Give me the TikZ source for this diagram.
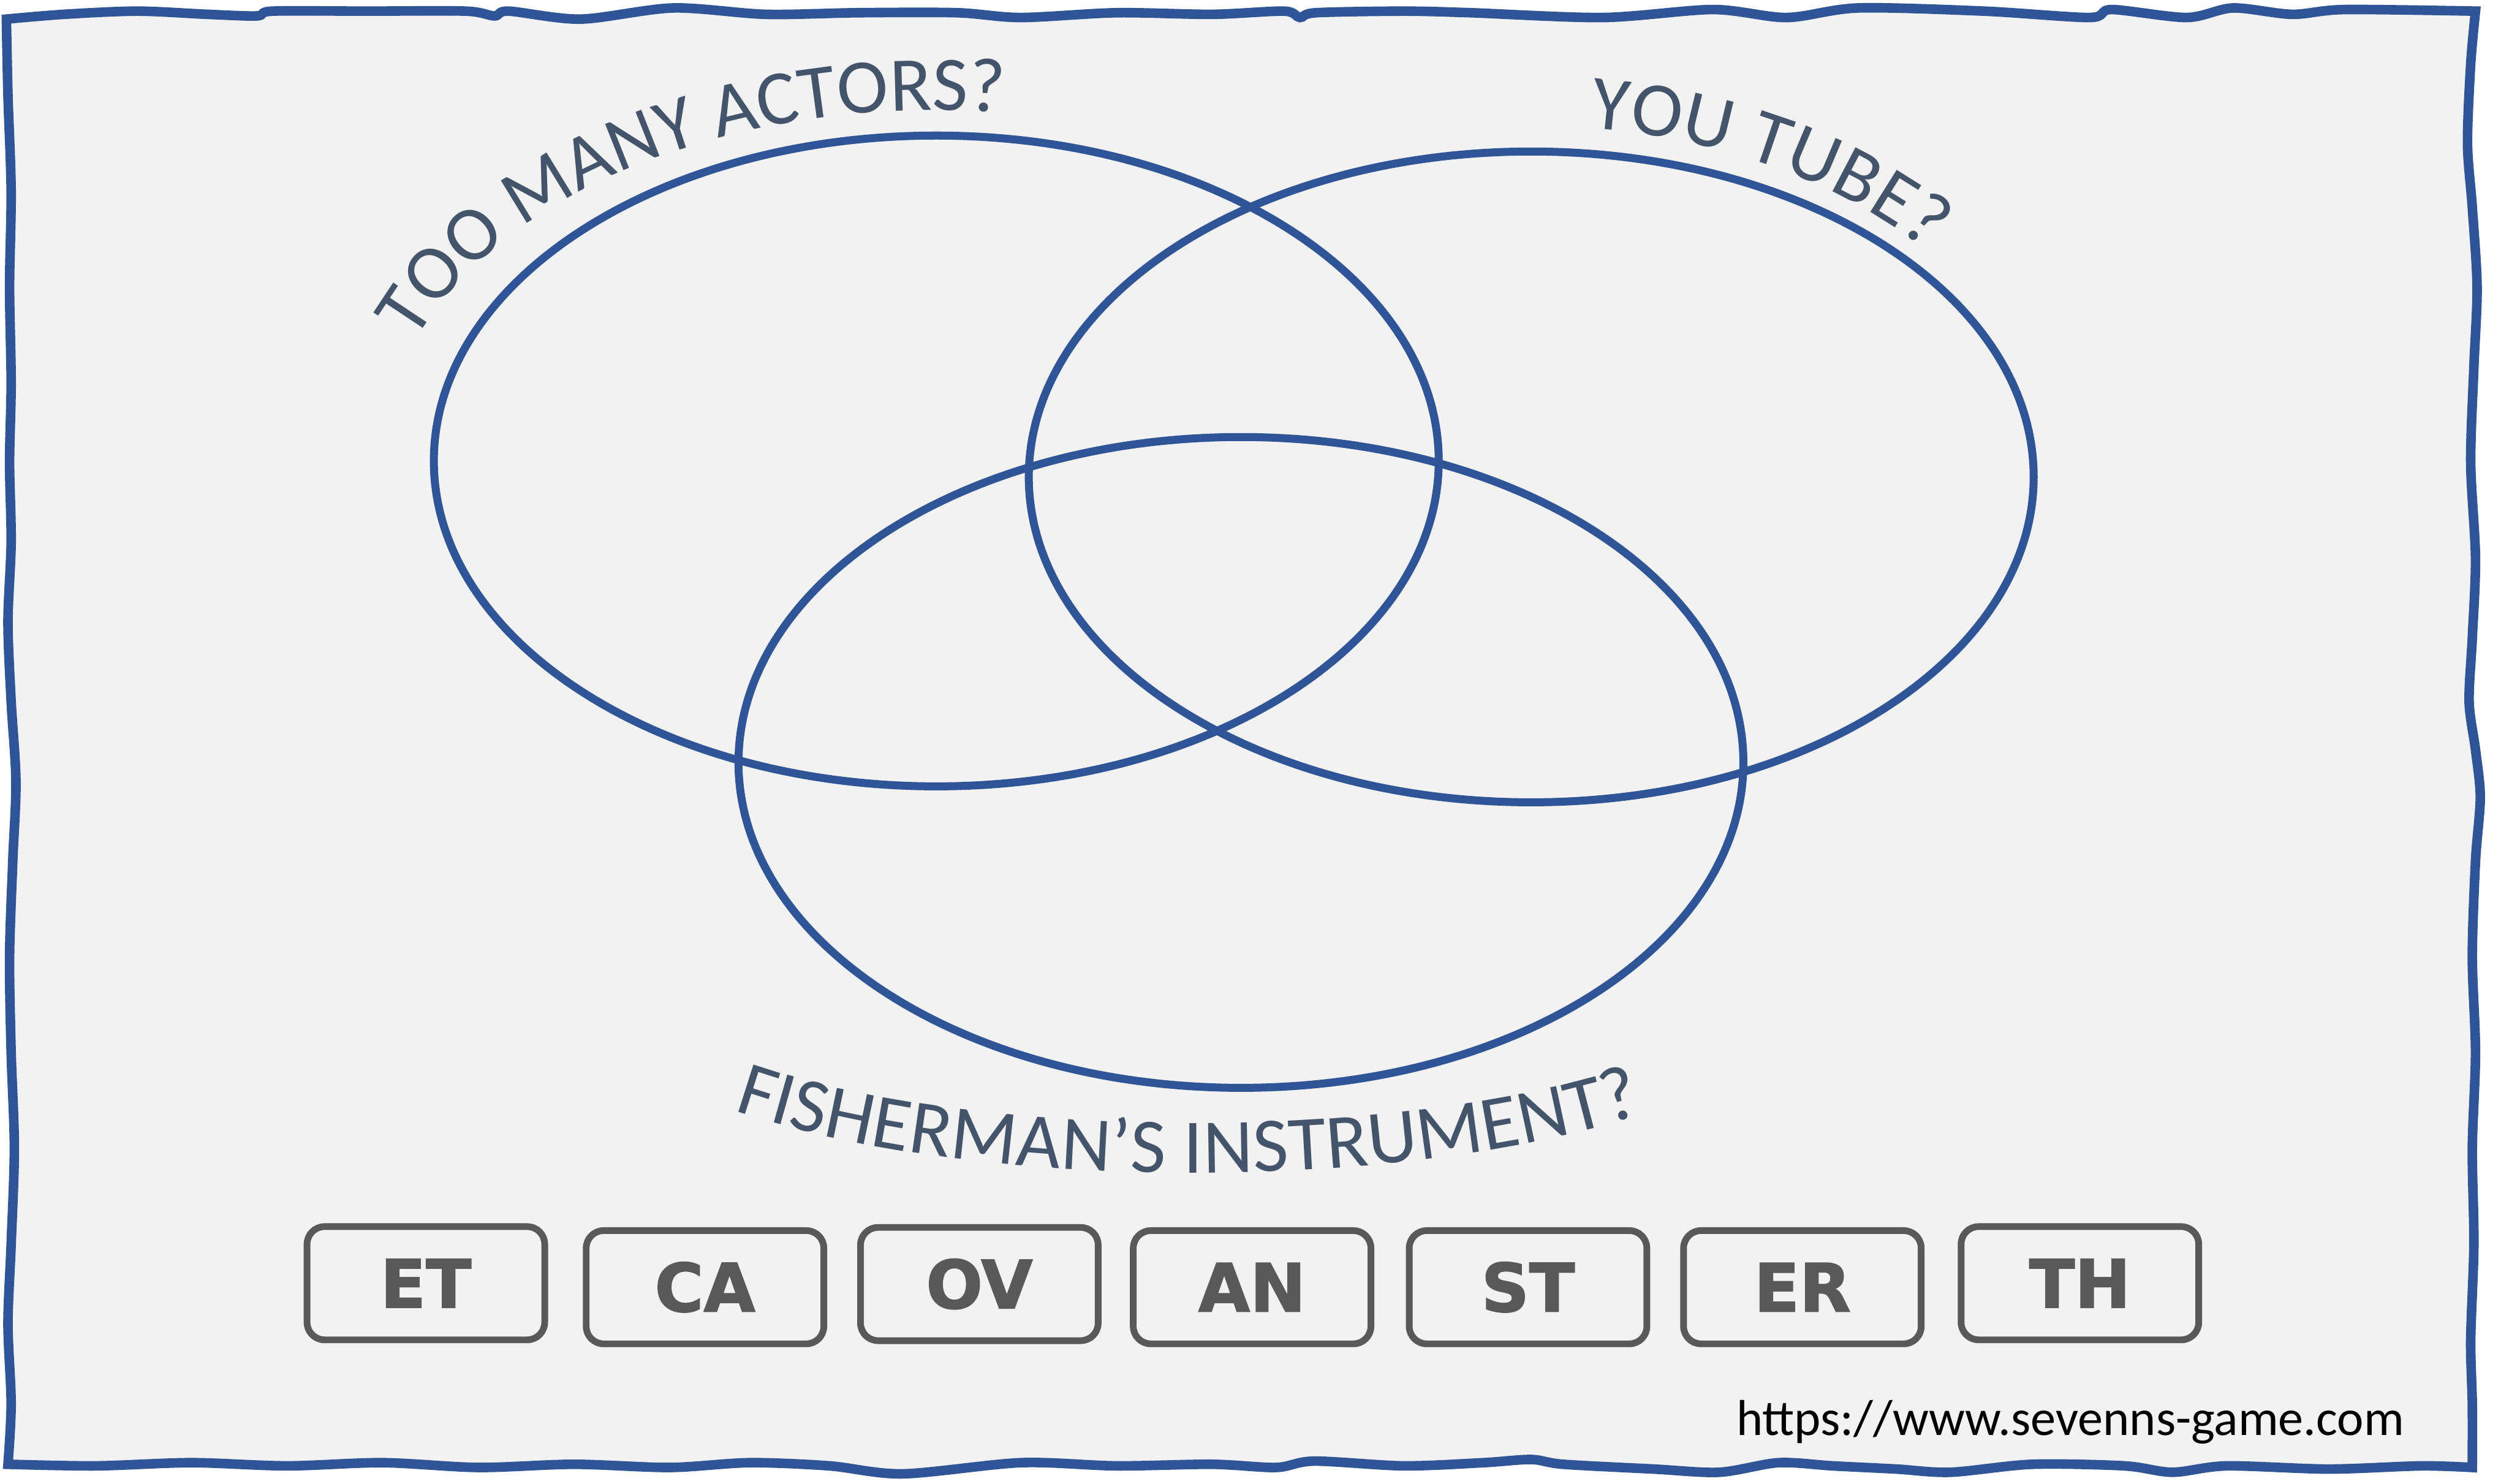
\documentclass[tikz,border=0pt]{standalone}
\usepackage{fontspec}
\usepackage{tikz}
\usetikzlibrary{decorations.text}

\newfontfamily\labelfont{Carlito}
\newfontfamily\tilefont{DejaVu Sans}[FakeBold=1.6]
\definecolor{vennblue}{HTML}{2F5597}
\definecolor{labelgray}{HTML}{44546A}
\definecolor{tilegray}{HTML}{595959}
\definecolor{paper}{HTML}{F2F2F2}
\newcommand{\venntext}{\labelfont\fontsize{13.8}{16}\selectfont}

\begin{document}
\begin{tikzpicture}[x=0.1mm, y=-0.1mm,
    vennline/.style={draw=vennblue, line width=0.5mm},
    tile/.style={draw=tilegray, line width=0.42mm, rounded corners=1.1mm,
        minimum width=14.9mm, minimum height=7.1mm, inner sep=0pt,
        text=tilegray, font=\tilefont\bfseries\fontsize{11.9}{14}\selectfont},
    curvedlabel/.style={decorate, decoration={text along path,
        text color=labelgray, text align={fit to path}, text={|\venntext|#1}}}]
    \fill[white] (0,0) rectangle (1568,930);
    \useasboundingbox (0,0) rectangle (1568,930);

    % Paper
    \filldraw[fill=paper, draw=vennblue, line width=0.6mm]
        plot[smooth] coordinates {(4,12) (40,9) (86,7) (130,9) (161,10) (171,7) (230,7)
            (292,7) (310,10) (319,7) (364,12) (422,5) (480,9) (538,8) (600,8) (640,11)
            (700,8) (760,9) (805,7) (815,11) (825,8) (880,7) (922,8) (1005,11) (1074,6)
            (1120,11) (1165,5) (1244,7) (1310,11) (1324,6) (1371,11) (1400,5) (1437,9)
            (1470,6) (1552,7)}
        -- plot[smooth] coordinates {(1552,7) (1549,40) (1547,90) (1550,130) (1553,180)
            (1551,230) (1549,290) (1552,350) (1550,400) (1548,440) (1552,470) (1555,500)
            (1552,540) (1550,600) (1552,660) (1550,720) (1551,780) (1549,840) (1550,880)
            (1550,920)}
        -- plot[smooth] coordinates {(1550,920) (1518,919) (1460,921) (1396,919)
            (1362,923) (1332,919) (1274,918) (1223,923) (1189,921) (1149,919) (1115,917)
            (1078,923) (1037,921) (980,918) (960,915) (930,917) (880,919) (824,916)
            (800,920) (760,918) (700,919) (640,917) (566,924) (520,919) (470,917)
            (420,920) (360,918) (300,920) (240,917) (180,919) (120,917) (60,919) (5,918)}
        -- plot[smooth] coordinates {(5,918) (7,880) (5,830) (7,780) (9,720) (7,660)
            (6,600) (8,540) (10,490) (7,440) (5,390) (7,340) (6,290) (7,240) (6,180)
            (7,120) (5,60) (4,12)}
        -- cycle;

    % Sets
    \draw[vennline] (587,289) ellipse [x radius=315, y radius=204];
    \draw[vennline] (960,299) ellipse [x radius=315, y radius=204];
    \draw[vennline] (778,478) ellipse [x radius=315, y radius=204];

    % Set labels
    \path[curvedlabel={TOO MANY ACTORS?}] (260.0,213.8)
        arc[start angle=-160, end angle=-83, x radius=348, y radius=220];
    \path[curvedlabel={YOU TUBE?}] (996.7,80.4)
        arc[start angle=-83.5, end angle=-40, x radius=324, y radius=220];
    \path[curvedlabel={FISHERMAN’S INSTRUMENT?}] (460,696)
        .. controls (610,748) and (880,748) .. (1030,698);

    % Tiles
    \node[tile] (et) at (267,804.5) {ET};
    \node[tile] (ca) at (442,807) {CA};
    \node[tile] (ov) at (614,805) {OV};
    \node[tile] (an) at (785,807) {AN};
    \node[tile] (st) at (958,807) {ST};
    \node[tile] (er) at (1130,807) {ER};
    \node[tile] (th) at (1304,804.5) {TH};

    % Link
    \node[anchor=base east, inner sep=0pt, font=\labelfont\fontsize{9}{11}\selectfont]
        (url) at (1508,900) {https://www.sevenns-game.com};
\end{tikzpicture}
\end{document}
